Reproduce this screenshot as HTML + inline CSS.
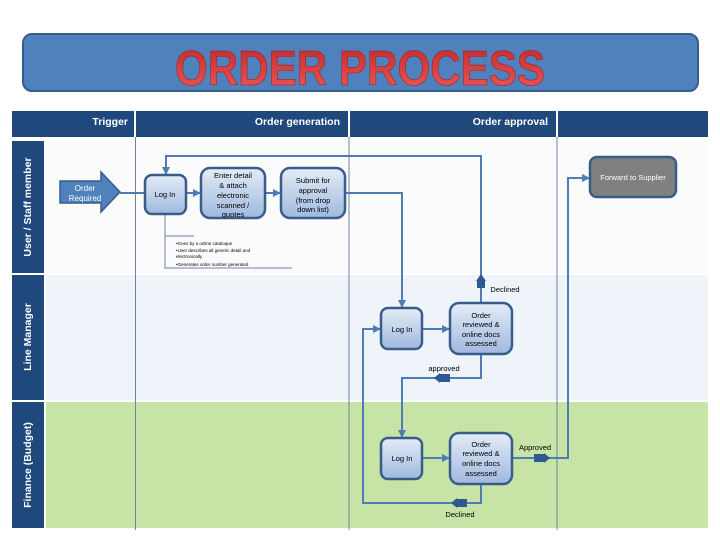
<!DOCTYPE html>
<html><head><meta charset="utf-8"><style>
html,body{margin:0;padding:0;background:#fff;}
svg{display:block;font-family:"Liberation Sans",sans-serif;}
</style></head><body>
<svg width="720" height="540" viewBox="0 0 720 540" xmlns="http://www.w3.org/2000/svg">
<defs>
<linearGradient id="ng" x1="0" y1="0" x2="0" y2="1"><stop offset="0" stop-color="#e4ecf7"/><stop offset="1" stop-color="#9fb9df"/></linearGradient>
<linearGradient id="tg" x1="0" y1="0" x2="0" y2="1"><stop offset="0" stop-color="#c0282a"/><stop offset="1" stop-color="#f05a5a"/></linearGradient>
<marker id="ar" markerWidth="8" markerHeight="8" refX="7" refY="4" orient="auto" markerUnits="userSpaceOnUse"><path d="M0,0 L8,4 L0,8 z" fill="#4f7db3"/></marker>
</defs>
<rect x="23" y="34" width="675" height="57" rx="9" fill="#4f81bd" stroke="#385d8a" stroke-width="2"/>
<text x="175" y="85" textLength="370" lengthAdjust="spacingAndGlyphs" font-size="49" font-weight="bold" fill="url(#tg)" stroke="#a02020" stroke-width="0.6">ORDER PROCESS</text>
<rect x="46" y="141" width="662" height="132" fill="#fbfbfb"/>
<rect x="46" y="275" width="662" height="125" fill="#eff4fa"/>
<rect x="46" y="402" width="662" height="126" fill="#c7e3a6"/>
<rect x="12" y="111" width="122" height="26" fill="#1f497d"/>
<rect x="136" y="111" width="212" height="26" fill="#1f497d"/>
<rect x="350" y="111" width="206" height="26" fill="#1f497d"/>
<rect x="558" y="111" width="150" height="26" fill="#1f497d"/>
<g fill="#fff" font-weight="bold" font-size="10.5">
<text x="128" y="125" text-anchor="end">Trigger</text>
<text x="340" y="125" text-anchor="end">Order generation</text>
<text x="548" y="125" text-anchor="end">Order approval</text>
</g>
<rect x="12" y="141" width="32" height="132" fill="#1f497d"/>
<rect x="12" y="275" width="32" height="125" fill="#1f497d"/>
<rect x="12" y="402" width="32" height="126" fill="#1f497d"/>
<g fill="#fff" font-weight="bold" font-size="10.5" text-anchor="middle">
<text transform="translate(31,207) rotate(-90)">User / Staff member</text>
<text transform="translate(31,337) rotate(-90)">Line Manager</text>
<text transform="translate(31,465) rotate(-90)">Finance (Budget)</text>
</g>
<g stroke="#6b84a3" stroke-width="1">
<line x1="135.5" y1="137" x2="135.5" y2="530"/>
<line x1="349" y1="137" x2="349" y2="530"/>
<line x1="557" y1="137" x2="557" y2="530"/>
</g>
<g stroke="#4f7db3" stroke-width="2" fill="none">
<line x1="120" y1="193" x2="145" y2="193"/>
<line x1="186" y1="193" x2="200" y2="193" marker-end="url(#ar)"/>
<line x1="265" y1="193" x2="280" y2="193" marker-end="url(#ar)"/>
<polyline points="345,193 402,193 402,307" marker-end="url(#ar)"/>
<polyline points="481,303 481,156 166,156 166,174" marker-end="url(#ar)"/>
<polyline points="481,354 481,378 402,378 402,437" marker-end="url(#ar)"/>
<line x1="422" y1="329" x2="449" y2="329" marker-end="url(#ar)"/>
<line x1="422" y1="458" x2="449" y2="458" marker-end="url(#ar)"/>
<polyline points="512,458 568,458 568,178 589,178" marker-end="url(#ar)"/>
<polyline points="481,484 481,503 363,503 363,329 380,329" marker-end="url(#ar)"/>
</g>
<g fill="#2f5a8f">
<rect x="477" y="280" width="8" height="8"/><path d="M476,281 L481,274 L486,281z"/>
<rect x="440" y="374" width="10" height="8"/><path d="M440,373 L434,378 L440,383z"/>
<rect x="534" y="454" width="10" height="8"/><path d="M544,453 L550,458 L544,463z"/>
<rect x="457" y="499" width="10" height="8"/><path d="M457,498 L451,503 L457,508z"/>
</g>
<polyline points="165,214 165,268 292,268" stroke="#6b84a3" fill="none" stroke-width="1"/>
<line x1="165" y1="236" x2="194" y2="236" stroke="#6b84a3" stroke-width="1"/>
<g font-size="4.5" fill="#000">
<text x="176" y="245">•Goes by a online cataloque</text>
<text x="176" y="252">•User describes all  generic detail and</text>
<text x="176" y="258">  electronically</text>
<text x="176" y="266">•Generates order number generated</text>
</g>
<path d="M60,181 L101,181 L101,172 L120,192 L101,212 L101,203 L60,203 z" fill="#4f81bd" stroke="#385d8a" stroke-width="1.5"/>
<g fill="#fff" font-size="8" text-anchor="middle"><text x="85" y="191">Order</text><text x="85" y="201">Required</text></g>
<g fill="url(#ng)" stroke="#385d8a" stroke-width="2.5">
<rect x="145" y="175" width="41" height="39" rx="7"/>
<rect x="201" y="168" width="64" height="50" rx="9"/>
<rect x="281" y="168" width="64" height="50" rx="9"/>
<rect x="381" y="308" width="41" height="41" rx="7"/>
<rect x="450" y="303" width="62" height="51" rx="9"/>
<rect x="381" y="438" width="41" height="41" rx="7"/>
<rect x="450" y="433" width="62" height="51" rx="9"/>
</g>
<rect x="590" y="157" width="86" height="40" rx="7" fill="#808080" stroke="#385d8a" stroke-width="2.5"/>
<g font-size="7.5" fill="#000" text-anchor="middle">
<text x="165" y="197">Log In</text>
<text x="233" y="178">Enter detail</text><text x="233" y="188">&amp; attach</text><text x="233" y="198">electronic</text><text x="233" y="208">scanned /</text><text x="233" y="217">quotes</text>
<text x="313" y="183">Submit for</text><text x="313" y="193">approval</text><text x="313" y="203">(from drop</text><text x="313" y="212">down list)</text>
<text x="402" y="332">Log In</text>
<text x="481" y="318">Order</text><text x="481" y="327">reviewed &amp;</text><text x="481" y="337">online docs</text><text x="481" y="346">assessed</text>
<text x="402" y="461">Log In</text>
<text x="481" y="447">Order</text><text x="481" y="456">reviewed &amp;</text><text x="481" y="466">online docs</text><text x="481" y="476">assessed</text>
<text x="633" y="180" fill="#fff">Forward to Supplier</text>
<text x="505" y="292">Declined</text>
<text x="444" y="371">approved</text>
<text x="535" y="450">Approved</text>
<text x="460" y="517">Declined</text>
</g>
</svg>
</body></html>
